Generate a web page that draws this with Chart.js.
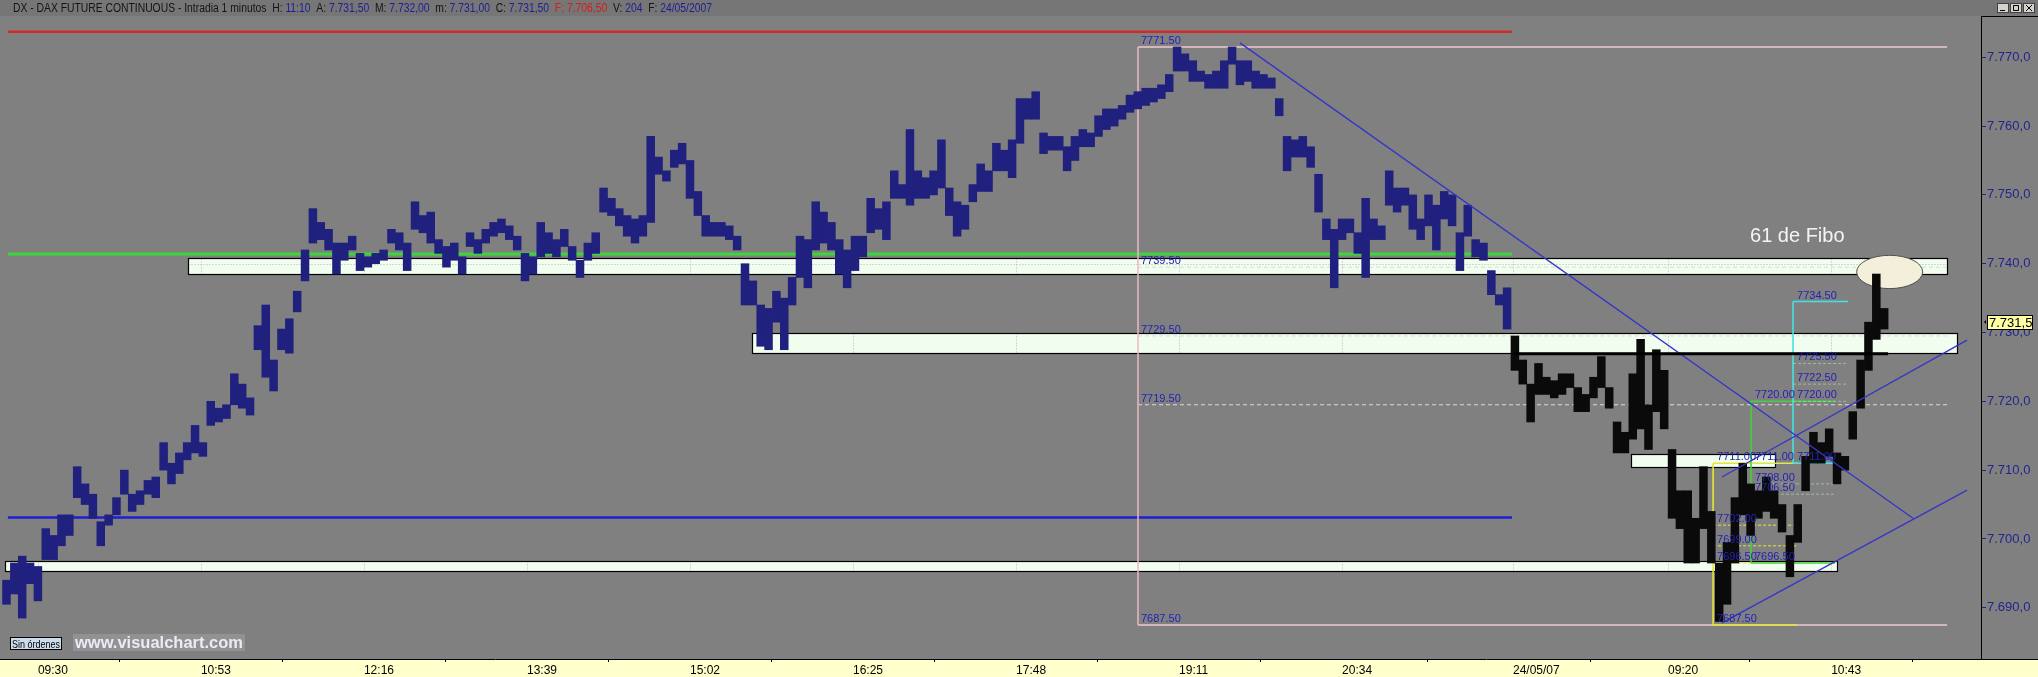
<!DOCTYPE html>
<html>
<head>
<meta charset="utf-8">
<script src="https://cdn.jsdelivr.net/npm/chart.js@4.4.1/dist/chart.umd.min.js"></script>
<style>
  html, body { margin: 0; padding: 0; background: #808080; }
  #wrap { width: 2038px; height: 677px; }
</style>
</head>
<body>
<div id="wrap"><canvas id="chart" width="2038" height="677"></canvas></div>
<script>
// each slot holds 4 one-minute bars; x values are minute index from 09:30
const slotStart = -16;
const slotStep = 4;
const dayBreak = 752;

const day1High = [
  7694.0, 7696.5, 7697.5, 7696.5, 7696.0, 7701.5, 7700.5, 7703.5, 7703.5, 7710.5,
  7708.0, 7706.5, 7702.5, 7703.5, 7706.0, 7710.0, 7706.5, 7707.0, 7708.5, 7709.0,
  7714.0, 7711.0, 7712.5, 7714.0, 7716.5, 7714.0, 7720.0, 7719.0, 7719.5, 7724.0,
  7722.5, 7720.5, 7731.0, 7734.0, 7726.0, 7730.5, 7732.0, 7736.0, 7742.0, 7748.0,
  7746.0, 7745.0, 7743.0, 7743.0, 7744.0, 7741.5, 7741.0, 7741.5, 7742.0, 7745.0,
  7744.5, 7743.0, 7749.0, 7747.0, 7747.5, 7743.5, 7742.5, 7743.0, 7741.0, 7744.5,
  7743.5, 7745.0, 7746.0, 7746.5, 7745.5, 7744.0, 7741.5, 7741.0, 7746.0, 7744.5,
  7743.5, 7745.0, 7742.5, 7740.5, 7743.0, 7744.5, 7751.0, 7749.5, 7748.0, 7747.0,
  7746.5, 7747.0, 7758.5, 7755.5, 7753.5, 7756.5, 7757.5, 7755.0, 7750.5, 7747.0,
  7746.0, 7746.0, 7745.5, 7744.0, 7740.0, 7737.5, 7734.0, 7733.5, 7736.0, 7735.0,
  7738.0, 7744.0, 7743.5, 7749.0, 7747.5, 7746.0, 7743.5, 7742.0, 7744.0, 7744.0,
  7749.5, 7748.0, 7749.0, 7753.5, 7751.5, 7759.5, 7753.5, 7752.5, 7753.5, 7758.0,
  7751.0, 7749.0, 7748.5, 7751.5, 7754.5, 7753.5, 7757.5, 7756.5, 7758.0, 7764.0,
  7764.0, 7765.0, 7759.0, 7758.5, 7758.5, 7757.0, 7758.5, 7759.5, 7759.0, 7761.5,
  7762.5, 7762.5, 7763.0, 7764.5, 7765.0, 7765.5, 7765.5, 7766.0, 7767.5, 7771.5,
  7770.5, 7769.5, 7768.0, 7767.5, 7768.0, 7769.5, 7771.5, 7769.5, 7769.5, 7768.0,
  7767.5, 7767.0, 7764.0, 7758.5, 7758.0, 7758.5, 7757.0, 7753.0, 7746.5, 7745.0,
  7746.5, 7746.5, 7744.5, 7749.5, 7746.5, 7745.5, 7753.5, 7751.0, 7751.0, 7750.0,
  7746.5, 7750.0, 7748.5, 7750.5, 7750.0, 7744.5, 7748.5, 7743.5, 7743.0, 7739.0,
  7735.5, 7736.5
];
const day1Low = [
  7690.5, 7692.0, 7688.5, 7693.5, 7691.0, 7697.0, 7697.0, 7699.0, 7700.5, 7706.0,
  7705.0, 7703.0, 7699.0, 7702.0, 7703.5, 7706.5, 7704.0, 7705.0, 7706.5, 7706.0,
  7710.0, 7708.0, 7709.5, 7711.5, 7712.5, 7712.0, 7716.5, 7717.0, 7717.5, 7719.5,
  7719.0, 7718.0, 7727.5, 7723.5, 7721.5, 7727.5, 7727.0, 7733.0, 7737.5, 7743.0,
  7743.5, 7742.0, 7738.5, 7740.5, 7742.0, 7739.0, 7739.5, 7740.0, 7740.5, 7743.0,
  7742.0, 7739.0, 7745.0, 7744.5, 7743.0, 7741.5, 7739.5, 7740.5, 7738.5, 7742.5,
  7741.5, 7743.0, 7744.0, 7744.5, 7743.5, 7742.0, 7737.5, 7738.5, 7741.0, 7741.5,
  7741.0, 7742.5, 7740.5, 7738.0, 7740.5, 7741.5, 7747.5, 7747.0, 7745.5, 7744.0,
  7743.0, 7744.0, 7746.0, 7753.0, 7752.0, 7754.0, 7754.5, 7749.5, 7747.0, 7744.0,
  7744.0, 7744.0, 7743.5, 7742.0, 7734.0, 7734.0, 7728.0, 7727.5, 7731.5, 7727.5,
  7734.0, 7738.0, 7736.5, 7742.0, 7743.0, 7742.0, 7738.5, 7736.5, 7739.0, 7741.0,
  7744.5, 7745.0, 7743.5, 7749.5, 7749.5, 7748.5, 7749.5, 7749.5, 7750.0, 7751.0,
  7747.0, 7744.0, 7745.0, 7749.0, 7750.5, 7750.5, 7753.5, 7753.5, 7752.5, 7757.5,
  7761.0, 7761.0, 7756.0, 7756.5, 7756.5, 7753.5, 7755.0, 7757.0, 7757.0, 7758.5,
  7759.5, 7760.0, 7761.0, 7762.0, 7762.5, 7763.0, 7763.5, 7764.0, 7765.0, 7768.0,
  7768.0, 7766.5, 7766.5, 7765.5, 7765.5, 7765.5, 7769.0, 7766.0, 7766.5, 7765.5,
  7765.5, 7765.5, 7761.5, 7753.5, 7755.5, 7755.5, 7754.0, 7747.5, 7743.5, 7736.5,
  7743.5, 7744.5, 7741.5, 7738.0, 7743.5, 7743.5, 7748.5, 7747.5, 7748.5, 7745.0,
  7743.5, 7745.5, 7742.0, 7746.5, 7745.5, 7739.0, 7744.0, 7741.0, 7740.5, 7735.5,
  7734.0, 7730.5
];
const day2High = [
  7729.5, 7726.0, 7722.5, 7725.5, 7723.5, 7723.0, 7724.0, 7724.0, 7722.0, 7721.0,
  7723.5, 7726.5, 7722.0, 7717.0, 7715.5, 7724.0, 7729.0, 7719.5, 7727.5, 7724.5,
  7713.0, 7707.0, 7707.0, 7703.0, 7710.5, 7704.0, 7696.5, 7699.5, 7706.0, 7711.0,
  7708.0, 7707.0, 7709.0, 7707.0, 7705.0, 7700.5, 7705.0, 7712.0, 7715.5, 7714.0,
  7716.0, 7712.5, 7712.0, 7718.5, 7726.0, 7731.5, 7738.5, 7733.5
];
const day2Low = [
  7724.5, 7722.5, 7717.0, 7721.0, 7721.0, 7720.5, 7721.0, 7722.0, 7718.5, 7718.5,
  7720.5, 7722.0, 7719.0, 7712.5, 7712.5, 7714.5, 7716.0, 7713.0, 7718.5, 7716.0,
  7703.0, 7701.5, 7696.5, 7696.5, 7701.5, 7696.5, 7688.0, 7690.5, 7696.5, 7703.5,
  7700.5, 7703.0, 7704.0, 7703.0, 7701.0, 7694.5, 7699.5, 7707.0, 7711.0, 7711.0,
  7712.0, 7708.0, 7710.0, 7714.5, 7719.0, 7724.5, 7729.0, 7730.5
];

const timeTicks = [0, 83, 166, 249, 332, 415, 498, 581, 664, 751, 830, 913];
const timeLabels = ["09:30", "10:53", "12:16", "13:39", "15:02", "16:25", "17:48", "19:11", "20:34", "24/05/07", "09:20", "10:43"];
const priceTicks = [7690, 7700, 7710, 7720, 7730, 7740, 7750, 7760, 7770];
const lastPrice = 7731.5;

// horizontal levels (price) drawn across the first session
const levelPrices = [7773.7, 7741.4, 7703.1];
const levelSpan = [-15.3, 750.5];
// support / resistance boxes: [fromMinute, toMinute, top, bottom]
const zoneBoxes = [
  [76.2, 972.0, 7740.9, 7738.5],
  [363.4, 977.1, 7729.9, 7727.0],
  [811.0, 884.6, 7712.4, 7710.5],
  [-16.8, 915.8, 7696.8, 7695.4]
];
// big fibonacci frame
const fiboSpan = [560.1, 972.0];
const fiboLevels = [7771.5, 7739.5, 7729.5, 7719.5, 7687.5];
// small retracements (yellow, green, cyan)
const retraceSpans = [[852.9, 895.6], [872.2, 915.0], [893.6, 921.6]];
const retraceLevels = [
  [7711.0, 7702.0, 7699.0, 7696.5, 7687.5],
  [7720.0, 7711.0, 7708.0, 7706.5, 7696.5],
  [7734.5, 7725.5, 7722.5, 7720.0, 7711.0]
];
// trend lines: [minute1, price1, minute2, price2]
const trendLines = [
  [612.0, 7772.1, 954.7, 7703.0],
  [857.4, 7687.8, 982.2, 7707.1],
  [857.4, 7709.0, 982.2, 7728.9]
];
const closeLine = [751.5, 942.0, 7726.9];
const ellipseMark = [942.8, 7738.8, 16.8, 2.42];
const noteText = ["61 de Fibo", 871.7, 7743.2];

const headerParts = [
  ["DX - DAX FUTURE CONTINUOUS - Intradia 1 minutos  H: ", 0], ["11:10", 1],
  ["  A: ", 0], ["7.731,50", 1], ["  M: ", 0], ["7.732,00", 1],
  ["  m: ", 0], ["7.731,00", 1], ["  C: ", 0], ["7.731,50", 1],
  ["  F: ", 2], ["7.706,50", 2], ["  V: ", 0], ["204", 1], ["  F: ", 0], ["24/05/2007", 1]
];

const bars = [];
day1High.forEach((h, i) => bars.push({ x: slotStart + slotStep * i, y: [day1Low[i], h] }));
day2High.forEach((h, i) => bars.push({ x: dayBreak + slotStep * i, y: [day2Low[i], h] }));

const navy = "#24248e";
const fmtPrice = (v) => {
  let [a, b] = v.toFixed(1).split(".");
  return a.slice(0, a.length - 3) + "." + a.slice(-3) + "," + b;
};

function px(chart, v) { return chart.scales.x.getPixelForValue(v); }
function py(chart, v) { return chart.scales.y.getPixelForValue(v); }

function line(ctx, x1, y1, x2, y2, color, w, dash) {
  ctx.save();
  ctx.strokeStyle = color;
  ctx.lineWidth = w;
  ctx.setLineDash(dash || []);
  ctx.beginPath();
  ctx.moveTo(x1, y1);
  ctx.lineTo(x2, y2);
  ctx.stroke();
  ctx.restore();
}

function condensed(ctx, text, x, y, sx) {
  ctx.save();
  ctx.translate(x, y);
  ctx.scale(sx, 1);
  ctx.fillText(text, 0, 0);
  ctx.restore();
}

const backdrop = {
  id: "backdrop",
  beforeDraw(chart) {
    const { ctx, chartArea: a, width, height } = chart;
    ctx.save();
    ctx.fillStyle = "#808080";
    ctx.fillRect(0, 0, width, height);
    ctx.fillStyle = "#767676";
    ctx.fillRect(0, 0, width, a.top);
    ctx.fillStyle = "#ffffcc";
    ctx.fillRect(0, a.bottom, width, height - a.bottom);

    // title line
    ctx.font = "12px 'Liberation Sans', Arial, sans-serif";
    ctx.textBaseline = "alphabetic";
    let total = 0;
    headerParts.forEach((p) => { total += ctx.measureText(p[0]).width; });
    const sx = 699 / total;
    let hx = 13;
    headerParts.forEach((p) => {
      ctx.fillStyle = ["#141414", "#1e1e96", "#d21e1e"][p[1]];
      condensed(ctx, p[0], hx, 12, sx);
      hx += ctx.measureText(p[0]).width * sx;
    });
    // window buttons
    [1997, 2010, 2023].forEach((bx, k) => {
      ctx.fillStyle = "#d6d3ce";
      ctx.fillRect(bx, 3, 12, 10);
      ctx.strokeStyle = "#404040";
      ctx.lineWidth = 1;
      ctx.strokeRect(bx + 0.5, 3.5, 11, 9);
      ctx.beginPath();
      if (k === 0) { ctx.moveTo(bx + 3, 10.5); ctx.lineTo(bx + 8, 10.5); }
      if (k === 1) { ctx.rect(bx + 3.5, 5.5, 5, 5); }
      if (k === 2) { ctx.moveTo(bx + 3, 5); ctx.lineTo(bx + 9, 11); ctx.moveTo(bx + 9, 5); ctx.lineTo(bx + 3, 11); }
      ctx.strokeStyle = "#000";
      ctx.stroke();
    });
    line(ctx, a.right, a.top + 0.5, width, a.top + 0.5, "#000", 1);
    ctx.restore();

    // horizontal levels
    [["#d42828", 2.5], ["#3cd63c", 3], ["#1e1ed4", 2.5]].forEach((s, i) => {
      const y = py(chart, levelPrices[i]);
      line(ctx, px(chart, levelSpan[0]), y, px(chart, levelSpan[1]), y, s[0], s[1]);
    });

    // zones
    zoneBoxes.forEach((b) => {
      const x1 = Math.round(px(chart, b[0])) + 0.5, x2 = Math.round(px(chart, b[1])) + 0.5;
      const y1 = Math.round(py(chart, b[2])) + 0.5, y2 = Math.round(py(chart, b[3])) + 0.5;
      ctx.save();
      ctx.fillStyle = "#f1fdef";
      ctx.fillRect(x1, y1, x2 - x1, y2 - y1);
      ctx.beginPath();
      ctx.rect(x1, y1, x2 - x1, y2 - y1);
      ctx.clip();
      timeTicks.forEach((t) => { const gx = Math.round(px(chart, t)) + 0.5; line(ctx, gx, y1, gx, y2, "#b4b4b4", 1, [1, 2]); });
      priceTicks.forEach((p) => { const gy = Math.round(py(chart, p)) + 0.5; line(ctx, x1, gy, x2, gy, "#b4b4b4", 1, [1, 2]); });
      ctx.restore();
      ctx.save();
      ctx.strokeStyle = "#000";
      ctx.lineWidth = 1.2;
      ctx.strokeRect(x1, y1, x2 - x1, y2 - y1);
      ctx.restore();
    });
  },
  beforeDatasetsDraw(chart) {
    const { ctx } = chart;
    // fibonacci frame
    const fx1 = px(chart, fiboSpan[0]), fx2 = px(chart, fiboSpan[1]);
    fiboLevels.forEach((lv, i) => {
      const y = py(chart, lv);
      if (i === 0 || i === fiboLevels.length - 1) line(ctx, fx1, y, fx2, y, "#eccad0", 1.5);
      else line(ctx, fx1, y, fx2, y, "#dadada", 1, [4, 3]);
    });
    line(ctx, fx1, py(chart, fiboLevels[0]), fx1, py(chart, fiboLevels[4]), "#eab8c2", 1.5);

    // small retracements
    const rc = ["#e6e632", "#44cf44", "#44e2e2"];
    retraceSpans.forEach((s, k) => {
      const x1 = px(chart, s[0]), x2 = px(chart, s[1]);
      const lv = retraceLevels[k];
      line(ctx, x1, py(chart, lv[0]), x1, py(chart, lv[4]), rc[k], 1.6);
      lv.forEach((v, i) => {
        const y = py(chart, v);
        if (i === 0 || i === 4) line(ctx, x1, y, x2, y, rc[k], 1.6);
        else line(ctx, x1, y, x2, y, k === 0 ? rc[k] : "rgba(190,230,190,0.55)", 1, [3, 2]);
      });
    });

    // ellipse
    const ex = px(chart, ellipseMark[0]), ey = py(chart, ellipseMark[1]);
    const rx = px(chart, ellipseMark[0] + ellipseMark[2]) - ex;
    const ry = py(chart, ellipseMark[1] - ellipseMark[3]) - ey;
    ctx.save();
    ctx.beginPath();
    ctx.ellipse(ex, ey, rx, ry, 0, 0, Math.PI * 2);
    ctx.fillStyle = "#f3efdb";
    ctx.fill();
    ctx.strokeStyle = "#505050";
    ctx.lineWidth = 1;
    ctx.stroke();
    ctx.restore();
  },
  afterDatasetsDraw(chart) {
    const { ctx } = chart;
    // trend lines
    trendLines.forEach((t) => {
      line(ctx, px(chart, t[0]), py(chart, t[1]), px(chart, t[2]), py(chart, t[3]), "#3636c6", 1.4);
    });
    const cy = py(chart, closeLine[2]);
    line(ctx, px(chart, closeLine[0]), cy, px(chart, closeLine[1]), cy, "#000", 3);

    ctx.save();
    ctx.font = "11px 'Liberation Sans', Arial, sans-serif";
    ctx.fillStyle = "#2222b4";
    const fx = px(chart, fiboSpan[0]) + 3;
    fiboLevels.forEach((lv) => ctx.fillText(lv.toFixed(2), fx, py(chart, lv) - 3));
    retraceSpans.forEach((s, k) => {
      const x = px(chart, s[0]) + 4;
      retraceLevels[k].forEach((v) => ctx.fillText(v.toFixed(2), x, py(chart, v) - 3));
    });
    ctx.font = "20px 'Liberation Sans', Arial, sans-serif";
    ctx.fillStyle = "#f4f4f4";
    ctx.fillText(noteText[0], px(chart, noteText[1]), py(chart, noteText[2]));
    ctx.restore();
  },
  afterDraw(chart) {
    const { ctx, chartArea: a, width } = chart;
    line(ctx, a.right, a.bottom + 0.5, width, a.bottom + 0.5, "#000", 1);
    // last price tag
    const y = Math.round(py(chart, lastPrice));
    ctx.save();
    ctx.fillStyle = "#ffffa6";
    ctx.fillRect(1987, y - 7, 46, 15);
    ctx.strokeStyle = "#000";
    ctx.lineWidth = 1;
    ctx.strokeRect(1987.5, y - 6.5, 45, 14);
    ctx.fillStyle = "#000";
    ctx.font = "13px 'Liberation Sans', Arial, sans-serif";
    ctx.textBaseline = "middle";
    ctx.fillText(fmtPrice(lastPrice), 1989, y + 1);
    ctx.beginPath();
    ctx.moveTo(1984, y);
    ctx.lineTo(1986, y - 2);
    ctx.lineTo(1986, y + 2);
    ctx.fill();

    // order button and watermark
    ctx.fillStyle = "#cbdcec";
    ctx.fillRect(10, 637, 52, 13);
    ctx.strokeRect(10.5, 637.5, 51, 12);
    ctx.fillStyle = "#000";
    ctx.font = "11px 'Liberation Sans', Arial, sans-serif";
    ctx.textBaseline = "alphabetic";
    condensed(ctx, "Sin órdenes", 12, 647.5, 48 / ctx.measureText("Sin órdenes").width);
    ctx.fillStyle = "rgba(255,255,255,0.14)";
    ctx.fillRect(73, 634, 172, 17);
    ctx.fillStyle = "#eceaf8";
    ctx.font = "bold 16px 'Liberation Sans', Arial, sans-serif";
    condensed(ctx, "www.visualchart.com", 75, 648, 168 / ctx.measureText("www.visualchart.com").width);
    ctx.restore();
  }
};

new Chart(document.getElementById("chart"), {
  type: "bar",
  data: {
    datasets: [{
      data: bars,
      backgroundColor: (c) => (c.raw && c.raw.x >= dayBreak ? "#0a0a0a" : "#20207e"),
      borderWidth: 0,
      barPercentage: 1,
      categoryPercentage: 1,
      grouped: false
    }]
  },
  options: {
    responsive: false,
    animation: false,
    layout: { padding: { top: 16 } },
    plugins: { legend: { display: false }, tooltip: { enabled: false } },
    scales: {
      x: {
        type: "linear",
        position: "bottom",
        min: -19.3,
        max: 989.3,
        offset: false,
        afterBuildTicks: (s) => { s.ticks = timeTicks.map((v) => ({ value: v })); },
        afterFit: (s) => { s.height = 18; },
        ticks: {
          autoSkip: false,
          maxRotation: 0,
          align: "start",
          padding: 1,
          color: "#000",
          font: { size: 12, family: "'Liberation Sans', Arial, sans-serif" },
          callback: (v, i) => timeLabels[i]
        },
        grid: { drawOnChartArea: false, tickLength: 3, color: "#000" },
        border: { color: "#000", width: 1 }
      },
      y: {
        type: "linear",
        position: "right",
        min: 7682.55,
        max: 7776.0,
        afterBuildTicks: (s) => { s.ticks = priceTicks.map((v) => ({ value: v })); },
        afterFit: (s) => { s.width = 57; },
        ticks: {
          padding: 1,
          color: navy,
          font: { size: 13, family: "'Liberation Sans', Arial, sans-serif" },
          callback: (v) => fmtPrice(v)
        },
        grid: { drawOnChartArea: false, tickLength: 5, color: navy },
        border: { color: "#000", width: 1 }
      }
    }
  },
  plugins: [backdrop]
});
</script>
</body>
</html>
